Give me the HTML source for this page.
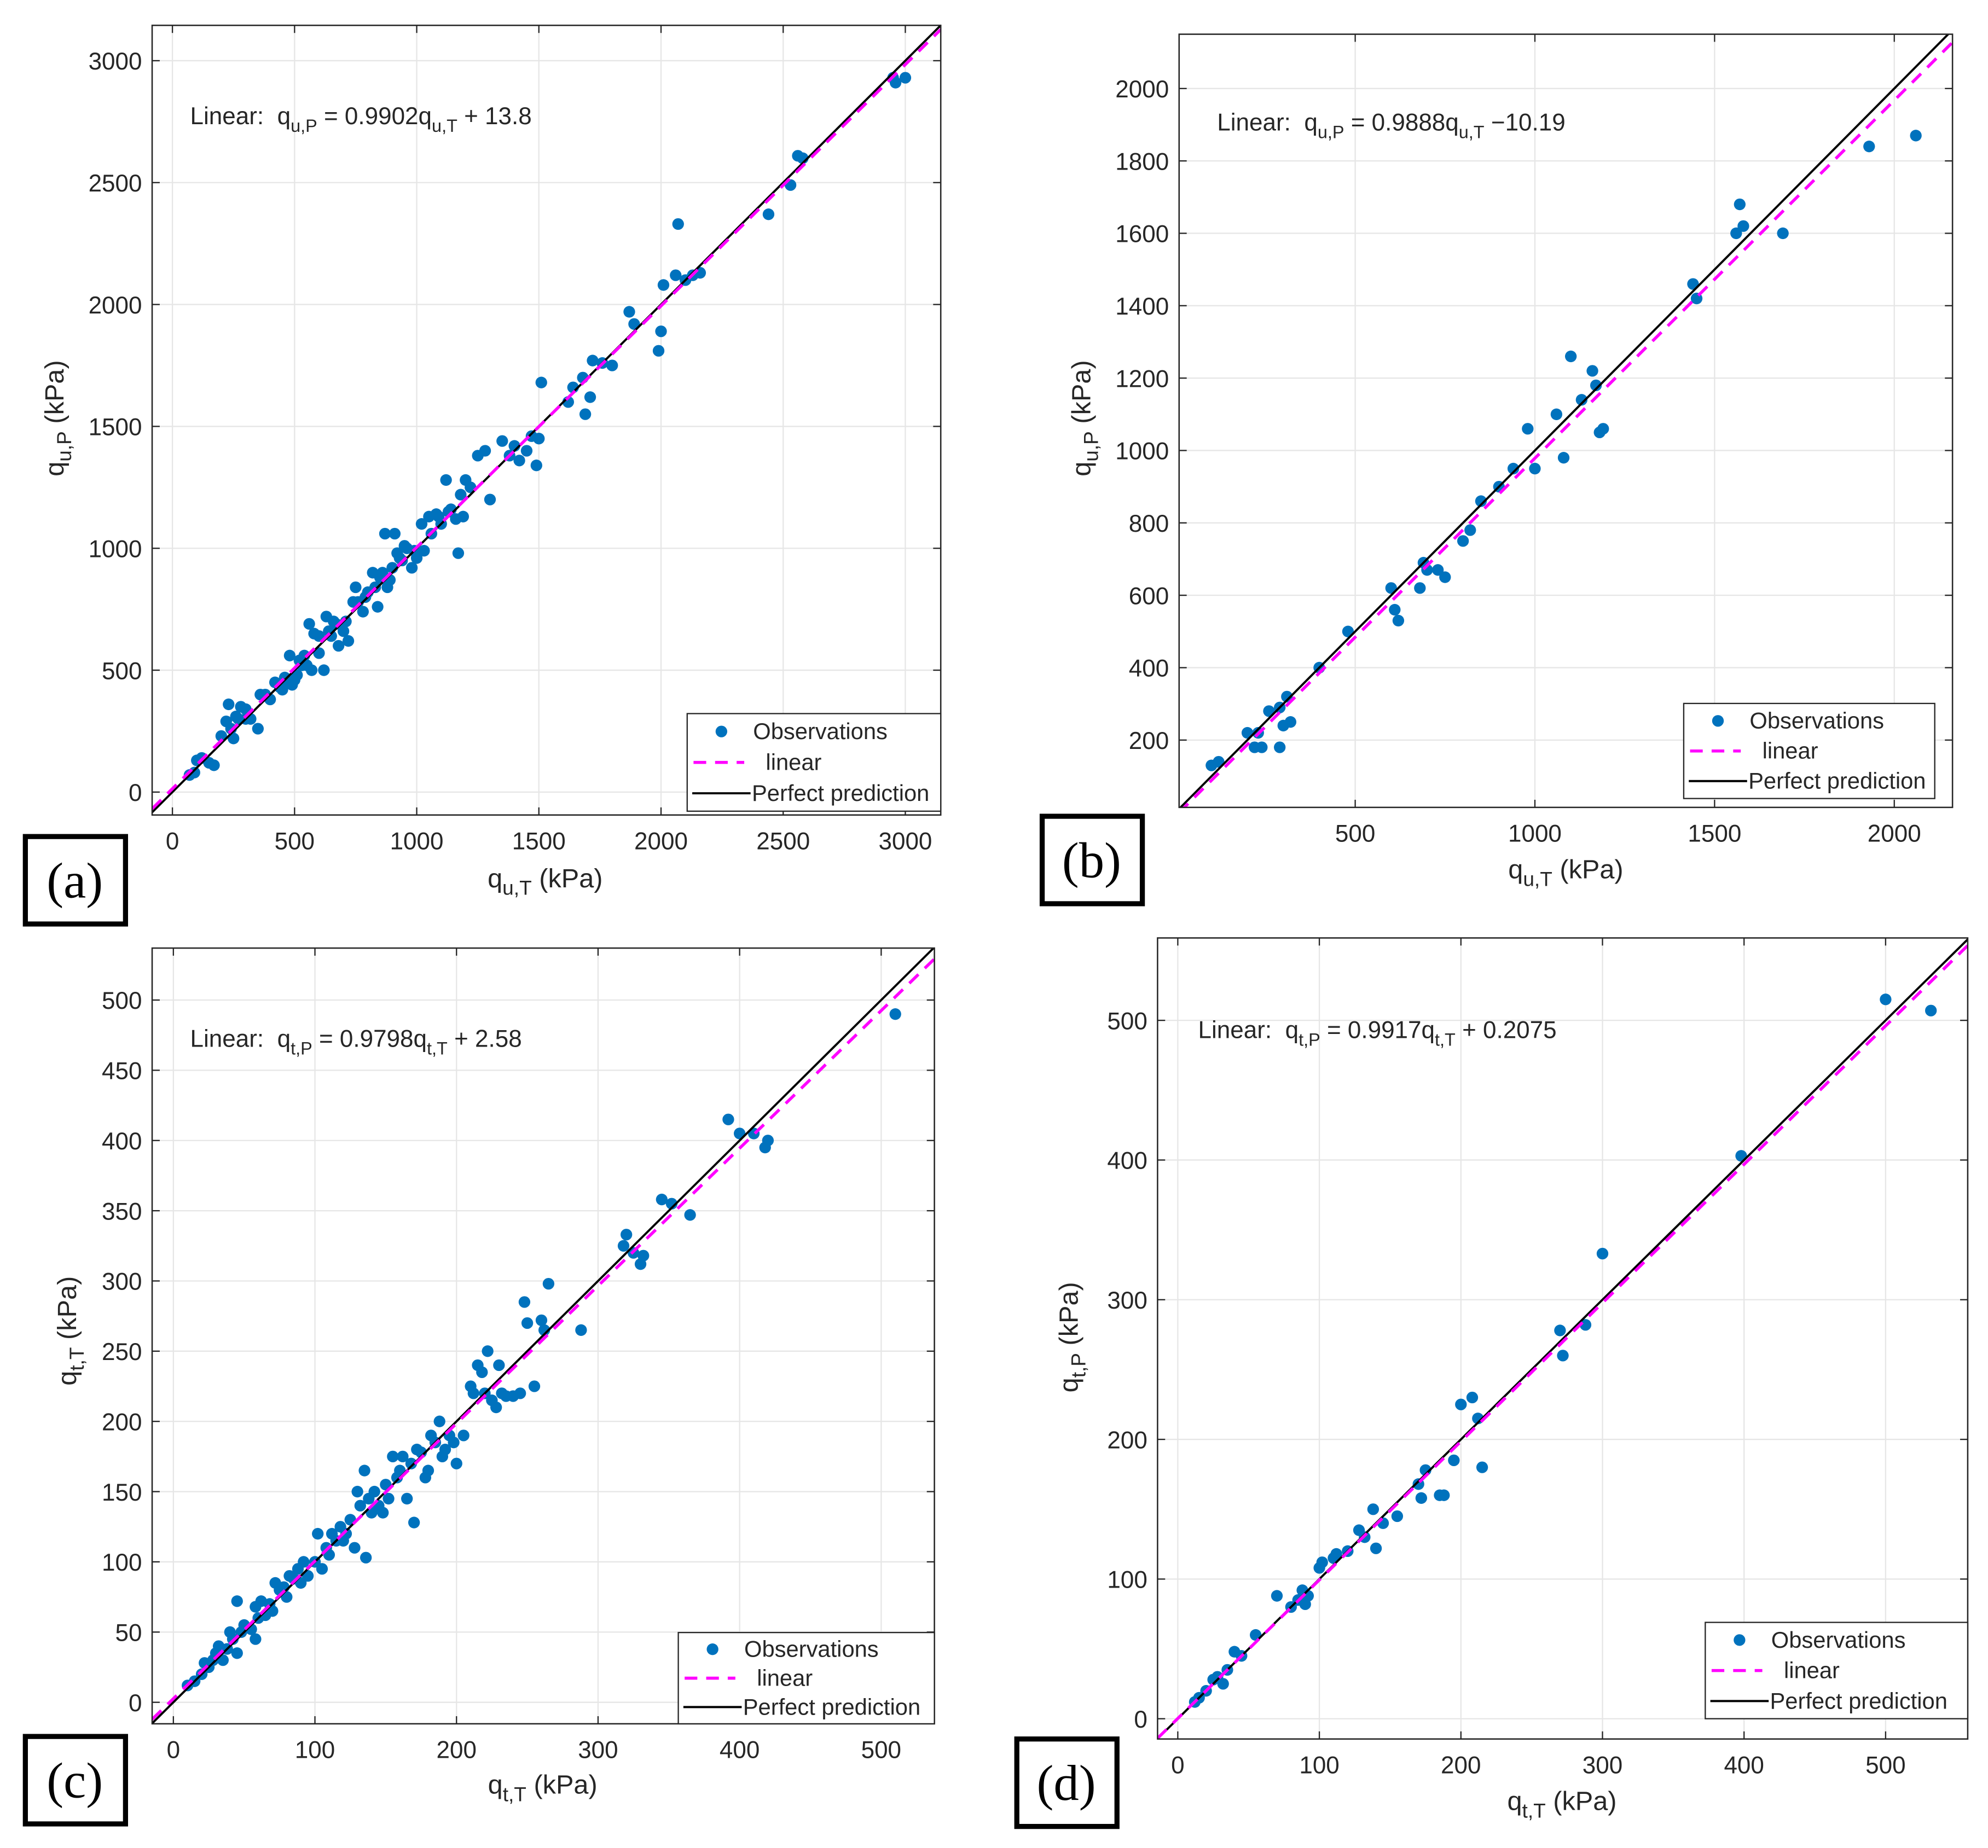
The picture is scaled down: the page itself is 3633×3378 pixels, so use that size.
<!DOCTYPE html>
<html><head><meta charset="utf-8">
<style>
html,body{margin:0;padding:0;background:#fff;}
svg{display:block;}
text{font-family:"Liberation Sans",Arial,sans-serif;fill:#262626;}
text.serif{font-family:"Liberation Serif",serif;fill:#000;}
</style></head>
<body>
<svg id="fig" width="3633" height="3378" viewBox="0 0 1568 1458" preserveAspectRatio="none" xmlns="http://www.w3.org/2000/svg"></svg>
<script>
// ---- Panel (a) data ----
const aX = [70,90,100,120,150,170,200,220,230,250,260,270,280,300,320,350,360,400,420,450,460,480,490,500,510,530,540,560,570,580,600,620,630,650,660,680,700,720,750,760,780,800,820,840,850,870,880,900,910,920,940,960,980,1000,1020,1050,1080,1100,1120,1140,1160,1170,1180,1200,1250,1280,1300,1350,1380,1400,1420,1450,1470,1490,1500,1510,1620,1640,1680,1690,1710,1720,1760,1800,1870,1890,1990,2000,2010,2060,2070,2100,2130,2160,2440,2530,2560,2580,2950,2960,3000,240,300,380,440,470,520,550,600,640,670,710,740,790,830,860,890,930,950,990,1030,1060,1090,1130,1190,1220];
const aY = [70,80,130,140,120,110,230,290,360,220,310,300,350,340,300,260,400,380,450,420,470,560,440,460,480,520,560,690,500,650,570,500,720,640,700,600,660,620,840,780,740,820,900,760,880,1060,840,920,1060,980,950,1000,920,960,1100,1130,1140,1100,1280,1160,1120,980,1220,1280,1380,1400,1200,1440,1380,1420,1360,1400,1460,1340,1450,1680,1600,1660,1700,1550,1620,1770,1760,1750,1970,1920,1810,1890,2080,2120,2330,2100,2120,2130,2370,2490,2610,2600,2930,2910,2930,260,300,400,430,450,540,520,640,660,690,700,780,800,840,900,870,960,1010,990,990,1060,1130,1150,1130,1250];
const aTicks = [0,500,1000,1500,2000,2500,3000];
// ---- Panel (b) data ----
const bX = [100,120,200,220,240,230,260,290,300,290,310,320,400,480,600,610,620,680,690,700,730,750,800,820,850,900,940,980,1000,1060,1080,1100,1130,1160,1170,1180,1190,1440,1450,1560,1570,1580,1690,1930,2060];
const bY = [130,140,220,180,180,220,280,180,240,290,320,250,400,500,620,560,530,620,690,670,670,650,750,780,860,900,950,1060,950,1100,980,1260,1140,1220,1180,1050,1060,1460,1420,1600,1680,1620,1600,1840,1870];
const bXTicks = [500,1000,1500,2000];
const bYTicks = [200,400,600,800,1000,1200,1400,1600,1800,2000];
// ---- Panel (c) data ----
const cX = [10,15,20,22,25,28,30,32,35,38,40,42,45,45,48,50,55,58,58,60,62,65,68,70,72,75,78,80,82,85,88,90,92,95,100,102,105,108,110,112,115,118,120,122,125,128,130,132,135,136,138,140,142,145,148,150,152,155,158,160,162,165,168,170,172,175,178,180,182,185,188,190,192,195,198,200,205,210,212,215,218,220,222,225,228,230,232,235,240,245,248,250,255,260,262,265,288,318,320,325,330,332,345,352,365,392,400,410,418,420,510];
const cY = [12,15,20,28,25,30,35,40,30,38,50,45,35,72,50,55,52,45,68,60,72,62,70,65,85,80,82,75,90,88,95,85,100,90,100,120,95,110,105,120,115,125,115,120,130,110,150,140,165,103,145,135,150,140,135,155,145,175,160,165,175,145,170,128,180,178,160,165,190,185,200,175,180,190,185,170,190,225,220,240,235,220,250,215,210,240,220,218,218,220,285,270,225,272,265,298,265,325,333,320,312,318,358,355,347,415,405,405,395,400,490];
const cXTicks = [0,100,200,300,400,500];
const cYTicks = [0,50,100,150,200,250,300,350,400,450,500];
// ---- Panel (d) data ----
const dX = [12,15,20,25,28,32,35,40,45,55,70,80,85,88,90,92,100,102,110,112,120,128,132,138,140,145,155,170,172,175,185,188,195,200,208,212,215,270,272,288,300,398,500,532];
const dY = [12,15,20,28,30,25,35,48,45,60,88,80,85,92,82,88,108,112,115,118,120,135,130,150,122,140,145,168,158,178,160,160,185,225,230,215,180,278,260,282,333,403,515,507];
const dTicks = [0,100,200,300,400,500];

const NS = "http://www.w3.org/2000/svg";
const fig = document.getElementById('fig');
function mk(tag, attrs, parent){ const e=document.createElementNS(NS,tag); for(const k in attrs) e.setAttribute(k,attrs[k]); (parent||fig).appendChild(e); return e; }

function panel(cfg){
  const g = mk('g',{});
  
  
  const {L,R,T,B,xmin,xmax,ymin,ymax} = cfg;
  const sx = v => L + (v - xmin) / (xmax - xmin) * (R - L);
  const sy = v => B - (v - ymin) / (ymax - ymin) * (B - T);
  mk('rect',{x:L,y:T,width:R-L,height:B-T,fill:'#fff'},g);
  cfg.xt.forEach(v=>{ const l=mk('line',{x1:sx(v),x2:sx(v),y1:T,y2:B,stroke:'#e6e6e6','stroke-width':1},g);
      });
  cfg.yt.forEach(v=>{ const l=mk('line',{x1:L,x2:R,y1:sy(v),y2:sy(v),stroke:'#e6e6e6','stroke-width':1},g);
      });
  const cid='clip'+cfg.id;
  const cp=mk('clipPath',{id:cid},g); mk('rect',{x:L,y:T,width:R-L,height:B-T},cp);
  const pg=mk('g',{'clip-path':'url(#'+cid+')'},g);
  for(let i=0;i<cfg.px.length;i++){
    const c=mk('circle',{cx:sx(cfg.px[i]),cy:sy(cfg.py[i]),r:4.6,fill:'#0072BD'},pg);
    
    
  }
  const pl=mk('line',{x1:sx(xmin-50),y1:sy(xmin-50),x2:sx(xmax+50),y2:sy(xmax+50),stroke:'#000','stroke-width':1.7},pg);
   
  const f=v=>cfg.m*v+cfg.b;
  const ll=mk('line',{x1:sx(xmin),y1:sy(f(xmin)),x2:sx(xmax),y2:sy(f(xmax)),stroke:'#FF00FF','stroke-width':2.4,'stroke-dasharray':'10,7'},pg);
   
  mk('rect',{x:L,y:T,width:R-L,height:B-T,fill:'none',stroke:'#262626','stroke-width':1.1},g);
  cfg.xt.forEach(v=>{
    mk('line',{x1:sx(v),x2:sx(v),y1:B,y2:B-6,stroke:'#262626'},g);
    mk('line',{x1:sx(v),x2:sx(v),y1:T,y2:T+6,stroke:'#262626'},g);
    const t=mk('text',{x:sx(v),y:B+27,'font-size':19,'text-anchor':'middle'},g); t.textContent=v;
     
  });
  cfg.yt.forEach(v=>{
    mk('line',{x1:L,x2:L+6,y1:sy(v),y2:sy(v),stroke:'#262626'},g);
    mk('line',{x1:R,x2:R-6,y1:sy(v),y2:sy(v),stroke:'#262626'},g);
    const t=mk('text',{x:L-8,y:sy(v)+7,'font-size':19,'text-anchor':'end'},g); t.textContent=v;
     
  });
  const eq=mk('text',{x:cfg.eqx,y:cfg.eqy,'font-size':19,fill:'#000'},g);
   
  eq.innerHTML='Linear:&#160; q<tspan font-size="14" dy="6">'+cfg.sub+',P</tspan><tspan dy="-6"> = '+cfg.mt+'q</tspan><tspan font-size="14" dy="6">'+cfg.sub+',T</tspan><tspan dy="-6"> '+cfg.bt+'</tspan>';
  const xl=mk('text',{x:cfg.xlx,y:cfg.xly,'font-size':21,'text-anchor':'middle'},g);
   
  xl.innerHTML='q<tspan font-size="16" dy="6">'+cfg.sub+',T</tspan><tspan dy="-6"> (kPa)</tspan>';
  const yl=mk('text',{x:0,y:0,'font-size':21,'text-anchor':'middle',transform:'translate('+cfg.ylx+','+cfg.yly+') rotate(-90)'},g);
   
  yl.innerHTML='q<tspan font-size="16" dy="6">'+cfg.sub+','+cfg.ysub+'</tspan><tspan dy="-6"> (kPa)</tspan>';
  const [lx,ly,lw,lh]=cfg.leg;
  const lg=mk('g',{},g);  
  mk('rect',{x:lx,y:ly,width:lw,height:lh,fill:'#fff',stroke:'#262626','stroke-width':1},lg);
  const rh=lh/3;
  mk('circle',{cx:lx+27,cy:ly+rh*0.55,r:4.6,fill:'#0072BD'},lg);
  const t1=mk('text',{x:lx+52,y:ly+rh*0.55+6,'font-size':18,fill:'#000'},lg); t1.textContent='Observations';
   
  mk('line',{x1:lx+5,x2:lx+45,y1:ly+rh*1.5,y2:ly+rh*1.5,stroke:'#FF00FF','stroke-width':2.4,'stroke-dasharray':'10,7'},lg);
  const t2=mk('text',{x:lx+62,y:ly+rh*1.5+6,'font-size':18,fill:'#000'},lg); t2.textContent='linear';
   
  mk('line',{x1:lx+4,x2:lx+50,y1:ly+rh*2.45,y2:ly+rh*2.45,stroke:'#000','stroke-width':1.7},lg);
  const t3=mk('text',{x:lx+51,y:ly+rh*2.45+6,'font-size':18,fill:'#000'},lg); t3.textContent='Perfect prediction';
   
  const [bx,by]=cfg.box;
  const pb=mk('g',{},g);  
  mk('rect',{x:bx+2,y:by+2,width:79,height:69,fill:'#fff',stroke:'#000','stroke-width':4},pb);
  const pt=mk('text',{x:bx+41,y:by+50,'font-size':40,'text-anchor':'middle','class':'serif'},pb);
  pt.textContent='('+cfg.id+')';
}

panel({id:'a',L:120,R:742,T:20,B:643,xmin:-83,xmax:3145,ymin:-94,ymax:3145,px:aX,py:aY,xt:aTicks,yt:aTicks,
  m:0.9902,b:13.8,mt:'0.9902',bt:'+ 13.8',sub:'u',ysub:'P',eqx:150,eqy:98,xlx:430,xly:700,ylx:50,yly:330,leg:[542,563,200,77],box:[18,658]});
panel({id:'b',L:930,R:1540,T:27,B:637,xmin:10,xmax:2162,ymin:14,ymax:2150,px:bX,py:bY,xt:bXTicks,yt:bYTicks,
  m:0.9888,b:-10.19,mt:'0.9888',bt:'\u221210.19',sub:'u',ysub:'P',eqx:960,eqy:103,xlx:1235,xly:693,ylx:860,yly:330,leg:[1328,555,198,75],box:[820,642]});
panel({id:'c',L:120,R:737,T:748,B:1360,xmin:-15,xmax:537.6,ymin:-15.3,ymax:537,px:cX,py:cY,xt:cXTicks,yt:cYTicks,
  m:0.9798,b:2.58,mt:'0.9798',bt:'+ 2.58',sub:'t',ysub:'T',eqx:150,eqy:826,xlx:428,xly:1415,ylx:60,yly:1050,leg:[535,1288,202,72],box:[18,1368]});
panel({id:'d',L:913,R:1552,T:740,B:1372,xmin:-14.3,xmax:558,ymin:-14.5,ymax:559,px:dX,py:dY,xt:dTicks,yt:dTicks,
  m:0.9917,b:0.2075,mt:'0.9917',bt:'+ 0.2075',sub:'t',ysub:'P',eqx:945,eqy:819,xlx:1232,xly:1428,ylx:850,yly:1055,leg:[1345,1280,207,76],box:[800,1370]});
</script>
</body></html>
